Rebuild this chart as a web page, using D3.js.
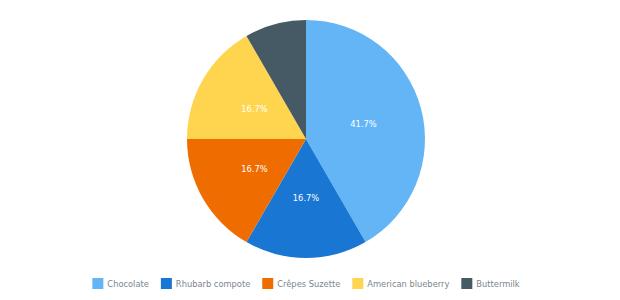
<!DOCTYPE html>
<html>
<head>
<meta charset="utf-8">
<script src="https://cdn.jsdelivr.net/npm/d3@7"></script>
<style>
  body { margin: 0; background: #fff; }
  svg { display: block; font-family: "DejaVu Sans", sans-serif; }
</style>
</head>
<body>
<svg id="chart" width="620" height="300"></svg>
<script>
// data
const categories = ["Chocolate", "Rhubarb compote", "Crêpes Suzette", "American blueberry", "Buttermilk"];
const values = [5, 2, 2, 2, 1];
const colors = ["#64b5f6", "#1976d2", "#ef6c00", "#ffd54f", "#455a64"];

const svg = d3.select("#chart");
const cx = 306, cy = 139, radius = 119;

const data = categories.map((c, i) => ({ name: c, value: values[i], color: colors[i] }));
const total = d3.sum(values);

const pie = d3.pie().value(d => d.value).sort(null);
const arc = d3.arc().innerRadius(0).outerRadius(radius);
const labelArc = d3.arc().innerRadius(radius * 0.5).outerRadius(radius * 0.5);

const g = svg.append("g").attr("transform", `translate(${cx},${cy})`);

const slices = g.selectAll(".slice")
    .data(pie(data))
    .join("g")
    .attr("class", "slice");

slices.append("path")
    .attr("d", arc)
    .attr("fill", d => d.data.color);

// labels, small slices get none
slices.filter(d => d.data.value / total > 0.1)
    .append("text")
    .attr("transform", d => `translate(${labelArc.centroid(d)})`)
    .attr("text-anchor", "middle")
    .attr("dy", "0.35em")
    .attr("font-size", 8.3)
    .attr("fill", "#ffffff")
    .text(d => (d.data.value / total * 100).toFixed(1) + "%");

// legend
const legend = svg.append("g");
const sq = 11, gapText = 4, gapItem = 12;
let x = 0;
const items = legend.selectAll(".item")
    .data(data)
    .join("g")
    .attr("class", "item");

items.append("rect")
    .attr("width", sq)
    .attr("height", sq)
    .attr("y", -sq / 2 - 0.5)
    .attr("fill", d => d.color);

items.append("text")
    .attr("x", sq + gapText)
    .attr("dy", "0.35em")
    .attr("font-size", 8.3)
    .attr("fill", "#7c868e")
    .text(d => d.name);

items.each(function () {
    const node = d3.select(this);
    node.attr("transform", `translate(${x},0)`);
    x += sq + gapText + node.select("text").node().getComputedTextLength() + gapItem;
});
const legendWidth = x - gapItem;
legend.attr("transform", `translate(${cx - legendWidth / 2},284)`);
</script>
</body>
</html>
